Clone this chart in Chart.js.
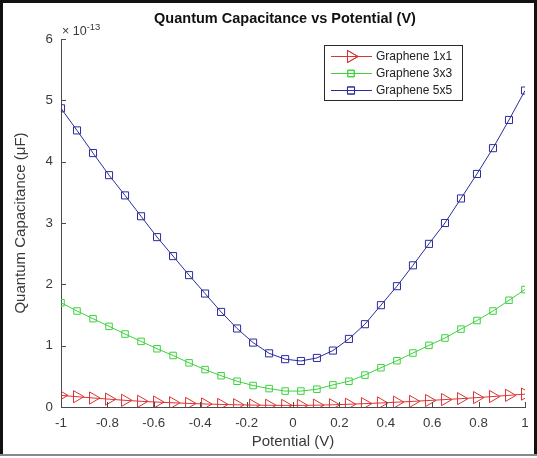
<!DOCTYPE html>
<html>
<head>
<meta charset="utf-8">
<script src="https://cdn.jsdelivr.net/npm/chart.js@4.4.1/dist/chart.umd.min.js"></script>
<style>
  html, body { margin: 0; padding: 0; background: #fff; }
  #wrap { position: relative; width: 537px; height: 458px; overflow: hidden; background: #fff; }
  canvas { position: absolute; left: 0; top: 0; }
  .bar { position: absolute; pointer-events: none; }
</style>
</head>
<body>
<div id="wrap">
  <canvas id="c" width="537" height="458"></canvas>
  <div class="bar" style="left:0;top:0;width:3px;height:456px;background:#111;"></div>
  <div class="bar" style="left:0;top:0;width:537px;height:3px;background:#111;"></div>
  <div class="bar" style="left:534px;top:0;width:3px;height:456px;background:#111;"></div>
  <div class="bar" style="left:0;top:454px;width:537px;height:2px;background:#888;"></div>
</div>
<script>
// Potential (V) sample positions
const potential = [-1, -0.931, -0.862, -0.793, -0.724, -0.655, -0.586, -0.517, -0.448, -0.379,
  -0.310, -0.241, -0.172, -0.103, -0.034, 0.034, 0.103, 0.172, 0.241, 0.310,
  0.379, 0.448, 0.517, 0.586, 0.655, 0.724, 0.793, 0.862, 0.931, 1];

// Quantum capacitance, in units of 1e-13 uF
const graphene1x1 = [0.19, 0.168, 0.147, 0.128, 0.109, 0.093, 0.080, 0.069, 0.058, 0.049,
  0.042, 0.036, 0.031, 0.028, 0.026, 0.026, 0.030, 0.036, 0.045, 0.055,
  0.066, 0.079, 0.092, 0.106, 0.121, 0.136, 0.153, 0.171, 0.190, 0.210];
const graphene3x3 = [1.70, 1.565, 1.44, 1.315, 1.19, 1.07, 0.95, 0.84, 0.72, 0.61,
  0.51, 0.42, 0.35, 0.30, 0.26, 0.26, 0.29, 0.36, 0.42, 0.52,
  0.64, 0.755, 0.88, 1.005, 1.125, 1.27, 1.41, 1.565, 1.74, 1.915];
const graphene5x5 = [4.87, 4.51, 4.14, 3.78, 3.45, 3.11, 2.77, 2.46, 2.15, 1.85,
  1.55, 1.28, 1.05, 0.875, 0.78, 0.75, 0.80, 0.92, 1.11, 1.35,
  1.66, 1.97, 2.31, 2.66, 3.00, 3.40, 3.80, 4.22, 4.68, 5.16];

const seriesNames = ['Graphene 1x1', 'Graphene 3x3', 'Graphene 5x5'];
const xTicks = [-1, -0.8, -0.6, -0.4, -0.2, 0, 0.2, 0.4, 0.6, 0.8, 1];
const yTicks = [0, 1, 2, 3, 4, 5, 6];
const exponentLabel = '-13';
const titleText = 'Quantum Capacitance vs Potential (V)';
const xTitle = 'Potential (V)';
const yTitle = 'Quantum Capacitance (\u03BCF)';

const FONT = "'Liberation Sans', Arial, Helvetica, sans-serif";
const RED = '#dc3232', GREEN = '#3cd23c', BLUE = '#2b2b9e';
const AXIS = '#4a4a4a', TEXT = '#3a3a3a';

function toXY(ys) { return ys.map((v, i) => ({ x: potential[i], y: v })); }

const styles = [
  { color: RED, pointStyle: 'triangle', rotation: 90, radius: 7 },
  { color: GREEN, pointStyle: 'rect', rotation: 0, radius: 4.6 },
  { color: BLUE, pointStyle: 'rect', rotation: 0, radius: 5 }
];
const seriesData = [graphene1x1, graphene3x3, graphene5x5];

const datasets = seriesData.map((d, i) => ({
  label: seriesNames[i],
  data: toXY(d),
  borderColor: styles[i].color,
  backgroundColor: 'rgba(0,0,0,0)',
  borderWidth: 1,
  pointStyle: styles[i].pointStyle,
  pointRotation: styles[i].rotation,
  pointRadius: styles[i].radius,
  pointBorderWidth: 1,
  pointBorderColor: styles[i].color,
  pointBackgroundColor: 'rgba(0,0,0,0)',
  tension: 0,
  order: i
}));

const decorPlugin = {
  id: 'decor',
  afterDraw(chart) {
    const ctx = chart.ctx;
    const xs = chart.scales.x, ys = chart.scales.y;
    const area = chart.chartArea;
    ctx.save();
    // inward tick marks
    ctx.strokeStyle = AXIS;
    ctx.lineWidth = 1;
    ctx.beginPath();
    xTicks.forEach(v => {
      const px = Math.round(xs.getPixelForValue(v)) + 0.5;
      ctx.moveTo(px, area.bottom);
      ctx.lineTo(px, area.bottom - 5);
    });
    yTicks.forEach(v => {
      const py = Math.round(ys.getPixelForValue(v)) + 0.5;
      ctx.moveTo(area.left, py);
      ctx.lineTo(area.left + 5, py);
    });
    ctx.stroke();

    // title
    ctx.fillStyle = '#111';
    ctx.font = 'bold 14.5px ' + FONT;
    ctx.textAlign = 'center';
    ctx.textBaseline = 'middle';
    ctx.fillText(titleText, 285, 19);

    // exponent
    ctx.fillStyle = TEXT;
    ctx.textAlign = 'left';
    ctx.font = '12.5px ' + FONT;
    ctx.fillText('\u00D7 10', area.left + 1, 32);
    const w = ctx.measureText('\u00D7 10').width;
    ctx.font = '9.5px ' + FONT;
    ctx.fillText(exponentLabel, area.left + 1 + w, 27);

    // legend
    const lx = 324.5, ly = 45.5, lw = 138, lh = 55;
    ctx.fillStyle = '#fff';
    ctx.fillRect(lx, ly, lw, lh);
    ctx.strokeStyle = '#2a2a2a';
    ctx.lineWidth = 1;
    ctx.strokeRect(lx, ly, lw, lh);
    const rows = [56.5, 73.5, 90.5];
    ctx.font = '12px ' + FONT;
    ctx.textBaseline = 'middle';
    rows.forEach((ry, i) => {
      const st = styles[i];
      ctx.strokeStyle = st.color;
      ctx.lineWidth = 1;
      ctx.beginPath();
      ctx.moveTo(331, ry);
      ctx.lineTo(372, ry);
      ctx.stroke();
      Chart.helpers.drawPoint(ctx, {
        pointStyle: st.pointStyle,
        rotation: st.rotation,
        radius: st.radius,
        borderWidth: 1
      }, 351, ry);
      ctx.fillStyle = '#222';
      ctx.textAlign = 'left';
      ctx.fillText(seriesNames[i], 376, ry + 0.5);
    });
    ctx.restore();
  }
};

// hook so drawPoint draws hollow markers
const origDraw = Chart.helpers.drawPoint;
Chart.helpers.drawPoint = function(ctx, opts, x, y) {
  ctx.save();
  ctx.fillStyle = 'rgba(0,0,0,0)';
  origDraw(ctx, opts, x, y);
  ctx.stroke();
  ctx.restore();
};

new Chart(document.getElementById('c'), {
  type: 'line',
  data: { datasets },
  options: {
    responsive: false,
    animation: false,
    devicePixelRatio: 1,
    layout: { padding: { left: 0, right: 12, top: 39, bottom: 0 } },
    plugins: { legend: { display: false }, title: { display: false }, tooltip: { enabled: false } },
    scales: {
      x: {
        type: 'linear',
        min: -1, max: 1,
        afterFit(s) { s.height = 51; },
        afterBuildTicks(s) { s.ticks = xTicks.map(v => ({ value: v })); },
        grid: { display: false, drawTicks: false },
        border: { display: true, color: AXIS, width: 1 },
        ticks: {
          padding: 8,
          color: TEXT,
          font: { family: FONT, size: 13.3 },
          maxRotation: 0,
          autoSkip: false,
          callback: v => String(Number(v.toFixed(1)))
        },
        title: { display: true, text: xTitle, color: TEXT, font: { family: FONT, size: 15 }, padding: { top: 0, bottom: 7 } }
      },
      y: {
        type: 'linear',
        min: 0, max: 6,
        afterFit(s) { s.width = 61; },
        afterBuildTicks(s) { s.ticks = yTicks.map(v => ({ value: v })); },
        grid: { display: false, drawTicks: false },
        border: { display: true, color: AXIS, width: 1 },
        ticks: {
          padding: 8,
          color: TEXT,
          font: { family: FONT, size: 13.3 },
          callback: v => String(v)
        },
        title: { display: true, text: yTitle, color: TEXT, font: { family: FONT, size: 15 }, padding: { top: 12, bottom: 0 } }
      }
    }
  },
  plugins: [decorPlugin]
});
</script>
</body>
</html>
